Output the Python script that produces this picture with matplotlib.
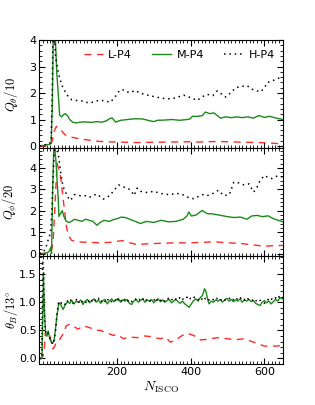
import numpy as np
import matplotlib.pyplot as plt
from matplotlib.ticker import MultipleLocator

# --- data ---
# panel 1: Q_theta / 10
qt_L_x = [-10, 0, 10, 20, 25, 30, 36, 45, 59, 77, 104, 136, 144, 170, 200, 250, 300, 350, 390, 420, 472, 500, 550, 608, 635, 650]
qt_L_y = [0, 0, 0.01, 0.03, 0.2, 0.55, 0.74, 0.65, 0.43, 0.33, 0.26, 0.2, 0.18, 0.16, 0.15, 0.13, 0.14, 0.15, 0.16, 0.15, 0.17, 0.16, 0.14, 0.12, 0.09, 0.08]

qt_M_x = [-10, 0, 10, 18, 22, 25, 28, 30, 33, 37, 41, 45, 50, 55, 60, 66, 72, 80, 90, 100, 115, 130, 145, 160,
          172, 180, 187, 197, 210, 230, 250, 270, 290, 300, 310, 330, 350, 370, 390, 398, 405, 420, 432, 440,
          452, 463, 472, 481, 495, 510, 525, 540, 555, 570, 585, 600, 614, 630, 650]
qt_M_y = [0, 0.02, 0.05, 0.06, 0.1, 1.5, 4.5, 5.0, 4.2, 2.8, 2.0, 1.15, 1.1, 1.18, 1.22, 1.15, 1.0, 0.9, 0.87, 0.9,
          0.91, 0.89, 0.92, 0.9, 0.95, 1.03, 1.06, 0.9, 0.97, 1.0, 1.03, 1.02, 0.95, 0.92, 0.97, 0.98, 1.0, 0.97,
          1.0, 1.02, 1.12, 1.12, 1.15, 1.28, 1.22, 1.25, 1.15, 1.05, 1.1, 1.07, 1.1, 1.07, 1.1, 1.05, 1.15, 1.08,
          1.12, 1.06, 1.0]

qt_H_x = [-10, 0, 10, 18, 22, 25, 27, 30, 33, 36, 41, 45, 54, 68, 77, 90, 105, 115, 128, 140, 154, 168, 182, 195,
          205, 214, 225, 237, 250, 262, 275, 290, 309, 325, 345, 360, 381, 395, 405, 418, 430, 445, 460, 472,
          485, 495, 508, 522, 538, 553, 565, 580, 590, 600, 608, 620, 635, 650]
qt_H_y = [0, 0.03, 0.05, 0.08, 0.3, 2.0, 4.5, 5.0, 3.5, 3.2, 2.8, 2.56, 2.19, 1.87, 1.75, 1.72, 1.7, 1.65, 1.63,
          1.68, 1.73, 1.7, 1.65, 1.85, 2.05, 2.14, 2.05, 2.02, 2.1, 2.0, 1.95, 1.9, 1.84, 1.8, 1.78, 1.82, 1.92,
          1.85, 1.8, 1.72, 1.85, 1.95, 1.9, 2.08, 1.95, 1.85, 2.0, 2.2, 2.25, 2.28, 2.15, 2.08, 2.05, 2.2, 2.4,
          2.45, 2.55, 2.6]

# panel 2: Q_phi / 20
qp_L_x = [-10, 0, 10, 20, 25, 28, 33, 38, 45, 49, 54, 59, 63, 68, 77, 90, 110, 130, 155, 180, 200, 215, 235, 254,
          280, 320, 360, 400, 430, 463, 500, 535, 570, 599, 620, 650]
qp_L_y = [0, 0, 0.02, 0.05, 0.3, 0.8, 2.5, 4.2, 3.8, 3.4, 2.6, 1.9, 1.3, 0.88, 0.62, 0.55, 0.53, 0.52, 0.5, 0.52,
          0.57, 0.6, 0.5, 0.42, 0.45, 0.48, 0.5, 0.5, 0.52, 0.55, 0.5, 0.47, 0.4, 0.34, 0.36, 0.38]

qp_M_x = [-10, 0, 10, 15, 18, 21, 23, 26, 29, 32, 35, 38, 41, 43, 47, 52, 57, 63, 70, 77, 85, 95, 105, 115, 125,
          135, 146, 155, 165, 180, 190, 200, 212, 223, 235, 250, 264, 280, 300, 320, 340, 360, 380, 390, 395,
          402, 415, 431, 445, 460, 481, 500, 517, 535, 553, 565, 580, 595, 610, 625, 650]
qp_M_y = [0, 0, 0.03, 0.08, 0.15, 0.3, 0.0, 3.0, 4.9, 4.85, 4.3, 3.4, 2.6, 1.73, 1.85, 2.0, 1.7, 1.5, 1.45, 1.5,
          1.6, 1.55, 1.5, 1.6, 1.55, 1.5, 1.32, 1.45, 1.55, 1.5, 1.58, 1.62, 1.7, 1.68, 1.6, 1.5, 1.4, 1.5, 1.45,
          1.55, 1.48, 1.5, 1.6, 1.75, 1.94, 1.75, 1.8, 2.01, 1.86, 1.85, 1.78, 1.72, 1.68, 1.7, 1.6, 1.75, 1.78,
          1.72, 1.76, 1.62, 1.48]

qp_H_x = [-10, 0, 5, 10, 14, 18, 21, 24, 27, 30, 33, 36, 41, 48, 54, 60, 66, 73, 80, 85, 95, 105, 114, 125, 135,
          146, 155, 163, 172, 181, 192, 205, 215, 230, 240, 247, 255, 265, 280, 300, 320, 340, 354, 370, 385,
          395, 408, 420, 433, 445, 460, 475, 490, 505, 517, 530, 545, 558, 571, 580, 588, 600, 610, 620, 635, 650]
qp_H_y = [0, 0.05, 0.19, 0.4, 0.65, 0.85, 1.1, 2.0, 3.5, 4.6, 4.9, 4.85, 4.68, 3.75, 3.13, 2.9, 2.67, 2.48, 2.6,
          2.75, 2.72, 2.68, 2.7, 2.62, 2.7, 2.78, 2.65, 2.54, 2.62, 2.7, 2.95, 3.2, 3.12, 3.05, 2.9, 2.71, 3.05,
          2.9, 2.85, 2.9, 2.8, 2.75, 2.78, 2.8, 2.7, 2.6, 2.56, 2.65, 2.75, 2.7, 2.8, 2.95, 2.7, 2.75, 3.33, 3.3,
          3.2, 3.25, 2.87, 3.1, 3.4, 3.64, 3.55, 3.5, 3.62, 3.57]

# panel 3: theta_B / 13 deg
tb_L_x = [-10, -4, 0, 3, 6, 10, 14, 18, 22, 27, 32, 36, 45, 54, 63, 72, 81, 95, 109, 125, 145, 155, 170, 191, 200,
          218, 231, 258, 275, 291, 318, 332, 345, 360, 375, 390, 408, 427, 445, 472, 503, 517, 544, 571, 585,
          599, 620, 635, 650]
tb_L_y = [0, 0, 0.05, 0.13, 0.45, 0.42, 0.35, 0.4, 0.3, 0.17, 0.22, 0.3, 0.34, 0.43, 0.58, 0.61, 0.58, 0.52, 0.58,
          0.55, 0.5, 0.5, 0.46, 0.41, 0.43, 0.35, 0.38, 0.37, 0.4, 0.39, 0.35, 0.38, 0.29, 0.33, 0.4, 0.45, 0.41,
          0.33, 0.34, 0.37, 0.35, 0.33, 0.35, 0.29, 0.26, 0.22, 0.22, 0.22, 0.24]

tb_M_x = [-10, -3, 0, 1, 3, 5, 7, 10, 14, 18, 22, 26, 30, 34, 38, 43, 48, 54, 60, 66, 72, 78, 84, 90, 96, 102,
          108, 114, 120, 126, 132, 138, 144, 150, 156, 162, 168, 174, 180, 186, 192, 198, 204, 210, 216, 222,
          228, 234, 240, 246, 252, 258, 264, 270, 276, 282, 288, 294, 300, 306, 312, 318, 324, 330, 336, 342,
          348, 354, 360, 366, 372, 378, 384, 390, 396, 402, 408, 414, 420, 426, 432, 438, 442, 446, 450, 456,
          462, 468, 474, 480, 486, 492, 498, 504, 510, 516, 522, 528, 534, 540, 546, 552, 558, 564, 570, 576,
          582, 588, 594, 600, 606, 612, 618, 624, 630, 636, 642, 650]
tb_M_y = [0, 0, 1.0, 1.47, 1.0, 0.67, 0.43, 0.4, 0.49, 0.35, 0.3, 0.27, 0.32, 0.55, 0.78, 0.99, 0.96, 0.87, 0.95,
          1.01, 0.98, 1.03, 0.97, 1.02, 1.0, 1.04, 0.96, 1.02, 1.05, 0.99, 1.03, 1.06, 1.0, 1.04, 0.98, 1.03,
          1.05, 0.97, 1.02, 1.06, 1.01, 1.04, 1.07, 1.0, 1.04, 1.02, 1.05, 0.98, 0.96, 1.02, 1.05, 1.0, 1.03,
          1.06, 1.0, 1.04, 1.02, 1.05, 0.99, 1.03, 1.06, 1.01, 1.04, 1.0, 1.03, 1.05, 0.99, 1.02, 1.05, 1.01,
          0.98, 1.02, 0.97, 0.94, 0.91, 0.97, 1.03, 1.06, 1.02, 1.08, 1.12, 1.24, 1.18, 1.05, 0.97, 1.02, 1.0,
          1.04, 1.02, 1.05, 1.0, 1.04, 1.07, 1.02, 1.05, 1.01, 1.04, 1.02, 1.06, 1.0, 1.04, 1.02, 1.05, 1.01,
          1.03, 0.98, 0.96, 0.94, 1.0, 1.03, 0.99, 1.02, 0.97, 1.01, 1.05, 1.02, 1.08, 1.06]

tb_H_x = [-10, -3, -1, 1, 3, 5, 8, 11, 14, 18, 22, 26, 30, 34, 38, 42, 46, 50, 55, 60, 65, 70, 75, 80, 85, 90, 95,
          100, 105, 110, 115, 120, 125, 130, 135, 140, 145, 150, 155, 160, 165, 170, 175, 180, 185, 190, 195,
          200, 205, 210, 215, 220, 225, 230, 235, 240, 245, 250, 255, 260, 265, 270, 275, 280, 285, 290, 295,
          300, 305, 310, 315, 320, 325, 330, 335, 340, 345, 350, 355, 360, 365, 370, 375, 380, 385, 390, 395,
          400, 405, 410, 415, 420, 425, 430, 435, 440, 445, 450, 455, 460, 465, 470, 475, 480, 485, 490, 495,
          500, 505, 510, 515, 520, 525, 530, 535, 540, 545, 550, 555, 560, 565, 570, 575, 580, 585, 590, 595,
          600, 605, 610, 615, 620, 625, 630, 635, 640, 645, 650]
tb_H_y = [0, 0, 1.74, 1.6, 0.9, 0.6, 0.45, 0.42, 0.45, 0.38, 0.3, 0.25, 0.33, 0.5, 0.8, 1.0, 1.02, 0.98, 1.0,
          0.96, 1.03, 0.99, 1.04, 0.97, 1.02, 1.05, 0.98, 1.03, 1.0, 1.04, 1.01, 0.97, 1.03, 1.06, 1.0, 1.04,
          1.02, 1.07, 1.0, 1.03, 1.05, 0.99, 1.04, 1.06, 1.01, 1.05, 1.03, 1.08, 1.02, 1.05, 1.0, 1.04, 1.07,
          1.02, 1.05, 1.01, 1.04, 1.06, 1.02, 1.05, 1.03, 1.07, 1.01, 1.04, 1.06, 1.02, 1.05, 1.03, 1.08, 1.02,
          1.05, 1.03, 1.06, 1.01, 1.04, 1.07, 1.03, 1.05, 1.02, 1.06, 1.04, 1.08, 1.03, 1.06, 1.05, 1.09, 1.04,
          1.07, 1.05, 1.09, 1.06, 1.04, 1.08, 1.05, 1.1, 1.06, 1.08, 1.04, 1.07, 1.05, 1.03, 1.07, 1.04, 1.06,
          1.02, 1.05, 1.03, 1.06, 1.07, 1.03, 1.05, 1.02, 1.06, 1.04, 1.08, 1.03, 1.05, 1.02, 1.06,
          1.04, 1.02, 1.05, 1.01, 1.04, 1.06, 1.02, 1.0, 0.98, 1.03, 1.05, 1.02, 1.06, 1.04, 1.08, 1.05, 1.1,
          1.07, 1.09]

labels = ['L-P4', 'M-P4', 'H-P4']
ylabels = [r'$Q_{\theta}/10$', r'$Q_{\phi}/20$', r'$\theta_B/13^{\circ}$']

plt.rcParams['font.size'] = 8
plt.rcParams['mathtext.fontset'] = 'cm'

fig = plt.figure(figsize=(3.15, 4.05), dpi=100)
gs = fig.add_gridspec(3, 1, left=0.125, right=0.898, top=0.901, bottom=0.101, hspace=0)
axes = [fig.add_subplot(gs[i]) for i in range(3)]

panels = [
    ((qt_L_x, qt_L_y), (qt_M_x, qt_M_y), (qt_H_x, qt_H_y)),
    ((qp_L_x, qp_L_y), (qp_M_x, qp_M_y), (qp_H_x, qp_H_y)),
    ((tb_L_x, tb_L_y), (tb_M_x, tb_M_y), (tb_H_x, tb_H_y)),
]
styles = [dict(color='#ff2a2a', ls=(0, (5, 4)), lw=1.0),
          dict(color='#1a8a1a', ls='-', lw=1.0),
          dict(color='black', ls=(0, (1, 2.5)), lw=1.1)]

for ax, series, yl in zip(axes, panels, ylabels):
    for (x, y), st, lab in zip(series, styles, labels):
        ax.plot(x, y, label=lab, **st)
    ax.set_xlim(-10, 650)
    ax.set_xticks([200, 400, 600])
    ax.xaxis.set_minor_locator(MultipleLocator(10))
    ax.tick_params(which='both', direction='in', top=True, right=True, pad=2)
    ax.tick_params(which='major', length=4)
    ax.tick_params(which='minor', length=2)
    ax.set_ylabel(yl, fontsize=9)
    ax.yaxis.set_label_coords(-0.08, 0.5)

axes[0].set_ylim(-0.08, 4)
axes[0].set_yticks([0, 1, 2, 3, 4])
axes[0].yaxis.set_minor_locator(MultipleLocator(0.2))
axes[1].set_ylim(-0.12, 4.92)
axes[1].set_yticks([0, 1, 2, 3, 4])
axes[1].yaxis.set_minor_locator(MultipleLocator(0.2))
axes[2].set_ylim(-0.1, 1.82)
axes[2].set_yticks([0.0, 0.5, 1.0, 1.5])
axes[2].yaxis.set_minor_locator(MultipleLocator(0.1))

for ax in axes[:2]:
    ax.tick_params(labelbottom=False)
axes[2].set_xlabel(r'$N_{\rm ISCO}$', fontsize=10, labelpad=2)

axes[0].legend(loc='upper center', bbox_to_anchor=(0.575, 1.0), ncol=3, frameon=False,
               fontsize=8, handlelength=1.7, handletextpad=0.5, columnspacing=1.8)

fig.savefig('out.png', dpi=100)
